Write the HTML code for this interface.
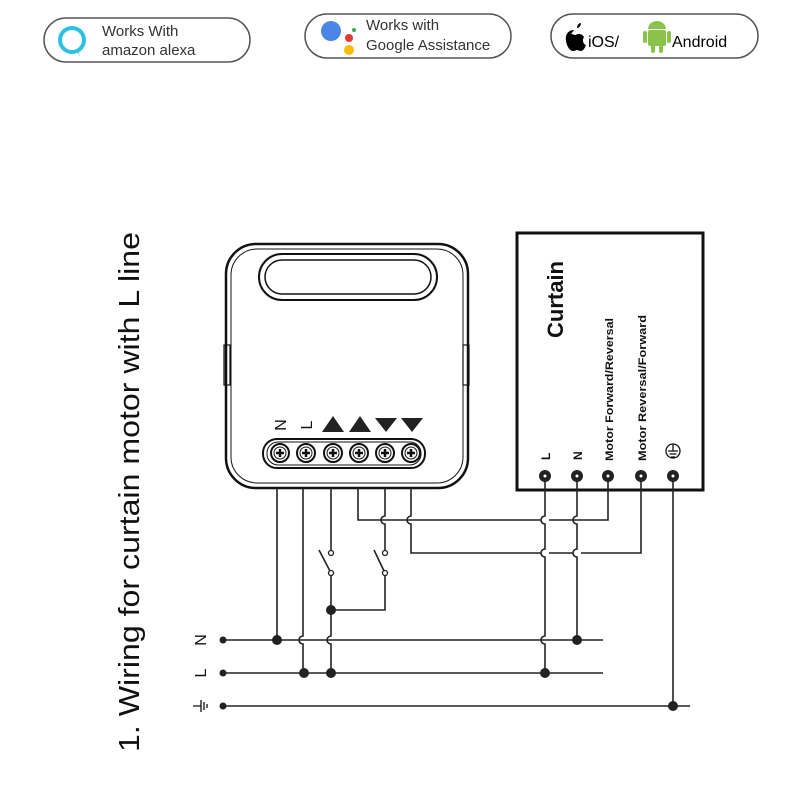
<!DOCTYPE html>
<html><head><meta charset="utf-8"><style>
html,body{margin:0;padding:0;background:#fff;width:800px;height:800px;overflow:hidden}
svg{display:block}
text{font-family:"Liberation Sans",sans-serif}
</style></head><body>
<svg width="800" height="800" viewBox="0 0 800 800" xmlns="http://www.w3.org/2000/svg">
<!-- logos -->
<rect x="44" y="18" width="206" height="44" rx="22" fill="#fff" stroke="#555" stroke-width="1.5"/>
<circle cx="72" cy="40" r="12" fill="none" stroke="#2bc0e4" stroke-width="4"/>
<path d="M76 50 L80 56 L78 49Z" fill="#2bc0e4"/>
<text x="102" y="36" font-size="15" fill="#333">Works With</text>
<text x="102" y="55" font-size="15" fill="#333">amazon alexa</text>

<rect x="305" y="14" width="206" height="44" rx="22" fill="#fff" stroke="#555" stroke-width="1.5"/>
<circle cx="331" cy="31" r="10" fill="#4a86e8"/>
<circle cx="349" cy="38" r="4" fill="#e53935"/>
<circle cx="354" cy="30" r="2" fill="#34a853"/>
<circle cx="349" cy="50" r="5" fill="#fbbc05"/>
<text x="366" y="30" font-size="15" fill="#333">Works with</text>
<text x="366" y="50" font-size="15" fill="#333">Google Assistance</text>

<rect x="551" y="14" width="207" height="44" rx="22" fill="#fff" stroke="#555" stroke-width="1.5"/>
<path d="M574 30 c-6 0 -9 5 -8 11 c1 6 4 10 7 10 c2 0 3-1 4-1 c1 0 2 1 4 1 c2 0 4-3 5-6 c-3-1-4-5-2-8 c-1-2-3-3-5-3 c-2 0-3 1-4 1 c-1 0-2-1-4-1z M577 28 c0-3 2-5 4-5 c0 3-2 5-4 5z" fill="#000"/>
<text x="588" y="47" font-size="16" fill="#000">iOS/</text>
<rect x="648" y="30" width="18" height="16" rx="2" fill="#8bc34a"/>
<path d="M648 29 a9 8 0 0 1 18 0z" fill="#8bc34a"/>
<rect x="643" y="31" width="4" height="12" rx="2" fill="#8bc34a"/>
<rect x="667" y="31" width="4" height="12" rx="2" fill="#8bc34a"/>
<rect x="651" y="45" width="4" height="8" rx="2" fill="#8bc34a"/>
<rect x="659" y="45" width="4" height="8" rx="2" fill="#8bc34a"/>
<text x="672" y="47" font-size="16" fill="#000">Android</text>

<!-- title -->
<text transform="translate(139,752) rotate(-90)" font-size="29" fill="#111" textLength="520" lengthAdjust="spacingAndGlyphs">1. Wiring for curtain motor with L line</text>

<!-- device -->
<g fill="none" stroke="#111">
<rect x="226" y="244" width="242" height="244" rx="30" stroke-width="2.5"/>
<rect x="231" y="249" width="232" height="234" rx="26" stroke-width="1"/>
<rect x="259" y="254" width="178" height="46" rx="23" stroke-width="2"/>
<rect x="265" y="260" width="166" height="34" rx="17" stroke-width="1.5"/>
<rect x="224" y="345" width="6" height="40" stroke-width="1.2"/>
<rect x="463" y="345" width="6" height="40" stroke-width="1.2"/>
<rect x="263" y="439" width="162" height="29" rx="14" stroke-width="2"/>
<rect x="267" y="442" width="154" height="23" rx="11" stroke-width="1"/>
</g>
<g fill="none" stroke="#111" stroke-width="2">
<circle cx="280" cy="453" r="9"/><circle cx="306" cy="453" r="9"/><circle cx="333" cy="453" r="9"/><circle cx="359" cy="453" r="9"/><circle cx="385" cy="453" r="9"/><circle cx="411" cy="453" r="9"/>
</g>
<g fill="none" stroke="#111" stroke-width="1">
<circle cx="280" cy="453" r="6"/><circle cx="306" cy="453" r="6"/><circle cx="333" cy="453" r="6"/><circle cx="359" cy="453" r="6"/><circle cx="385" cy="453" r="6"/><circle cx="411" cy="453" r="6"/>
</g>
<g stroke="#111" stroke-width="2.5">
<path d="M276 453h8M280 449v8M302 453h8M306 449v8M329 453h8M333 449v8M355 453h8M359 449v8M381 453h8M385 449v8M407 453h8M411 449v8"/>
</g>
<text transform="translate(286,425) rotate(-90)" font-size="16" fill="#111" text-anchor="middle">N</text>
<text transform="translate(312,425) rotate(-90)" font-size="16" fill="#111" text-anchor="middle">L</text>
<path d="M322 432 L333 416 L344 432Z M349 432 L360 416 L371 432Z M375 418 L397 418 L386 432Z M401 418 L423 418 L412 432Z" fill="#222"/>

<!-- curtain box -->
<rect x="517" y="233" width="186" height="257" fill="none" stroke="#111" stroke-width="3"/>
<text transform="translate(563,338) rotate(-90)" font-size="22" font-weight="bold" fill="#111">Curtain</text>
<text transform="translate(613,461) rotate(-90)" font-size="11" font-weight="bold" fill="#111" textLength="143" lengthAdjust="spacingAndGlyphs">Motor Forward/Reversal</text>
<text transform="translate(646,461) rotate(-90)" font-size="11" font-weight="bold" fill="#111" textLength="146" lengthAdjust="spacingAndGlyphs">Motor Reversal/Forward</text>
<text transform="translate(550,460) rotate(-90)" font-size="12" font-weight="bold" fill="#111">L</text>
<text transform="translate(582,460) rotate(-90)" font-size="12" font-weight="bold" fill="#111">N</text>
<g fill="none" stroke="#111" stroke-width="1.3">
<circle cx="673" cy="451" r="7"/><path d="M673 444v7M668 451h10M669.5 454h7M671 457h4"/>
</g>

<!-- wires -->
<g fill="none" stroke="#222" stroke-width="1.6">
<path d="M277 488V640"/>
<path d="M303 488V636 a4 4 0 0 0 0 8 V673"/>
<path d="M331 488V553 M331 573V636 a4 4 0 0 0 0 8 V673"/>
<path d="M319 550 L331 573"/>
<path d="M358 488V520H541 M549 520H608V476"/>
<path d="M385 488V516 a4 4 0 0 0 0 8 V553 M385 573V610H331"/>
<path d="M374 550 L385 573"/>
<path d="M411 488V516 a4 4 0 0 0 0 8 V553H541 M549 553H573 M581 553H641V476"/>
<path d="M545 476V516 a4 4 0 0 0 0 8 V549 a4 4 0 0 0 0 8 V636 a4 4 0 0 0 0 8 V673"/>
<path d="M577 476V516 a4 4 0 0 0 0 8 V549 a4 4 0 0 0 0 8 V640"/>
<path d="M673 476V706"/>
<path d="M223 640H603 M223 673H603 M223 706H690"/>
</g>
<g fill="none" stroke="#222" stroke-width="1.3">
<circle cx="331" cy="553" r="2.5" fill="#fff"/><circle cx="331" cy="573" r="2.5" fill="#fff"/>
<circle cx="385" cy="553" r="2.5" fill="#fff"/><circle cx="385" cy="573" r="2.5" fill="#fff"/>
</g>
<g fill="#222">
<circle cx="331" cy="610" r="5"/><circle cx="277" cy="640" r="5"/><circle cx="304" cy="673" r="5"/><circle cx="331" cy="673" r="5"/>
<circle cx="577" cy="640" r="5"/><circle cx="545" cy="673" r="5"/><circle cx="673" cy="706" r="5"/>
<circle cx="223" cy="640" r="3.5"/><circle cx="223" cy="673" r="3.5"/><circle cx="223" cy="706" r="3.5"/>
</g>
<g fill="#222" stroke="#fff" stroke-width="0">
<circle cx="545" cy="476" r="6"/><circle cx="577" cy="476" r="6"/><circle cx="608" cy="476" r="6"/><circle cx="641" cy="476" r="6"/><circle cx="673" cy="476" r="6"/>
</g>
<g fill="#fff"><circle cx="545" cy="476" r="1.5"/><circle cx="577" cy="476" r="1.5"/><circle cx="608" cy="476" r="1.5"/><circle cx="641" cy="476" r="1.5"/><circle cx="673" cy="476" r="1.5"/></g>

<!-- left labels -->
<text transform="translate(206,640) rotate(-90)" font-size="16" fill="#111" text-anchor="middle">N</text>
<text transform="translate(206,673) rotate(-90)" font-size="16" fill="#111" text-anchor="middle">L</text>
<g stroke="#111" stroke-width="1.3" fill="none"><path d="M193 706h8M201 700v12M204 702v8M207 704v4"/></g>
</svg>
</body></html>
